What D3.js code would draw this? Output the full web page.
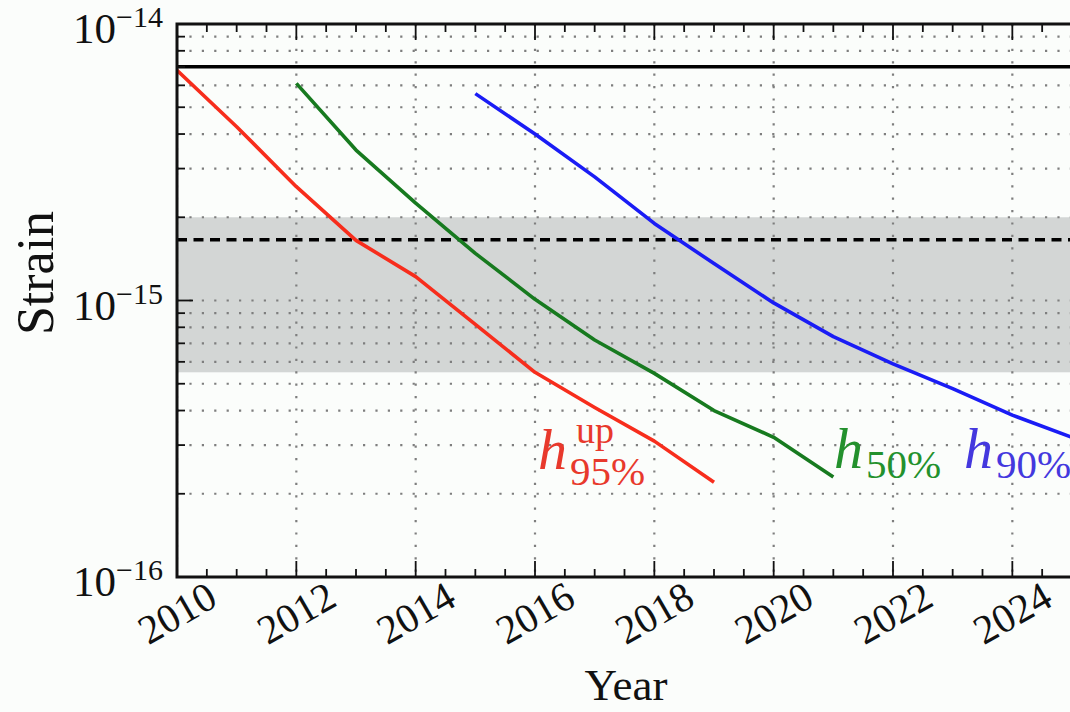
<!DOCTYPE html>
<html>
<head>
<meta charset="utf-8">
<script src="https://cdn.jsdelivr.net/npm/d3@7"></script>
<style>
    body { margin: 0; background: #fbfdfb; }
    svg { display: block; }
    text { font-family: "Liberation Serif", "DejaVu Serif", serif; fill: #111; }
</style>
</head>
<body>
<div id="grafico"></div>
<script>
// datos
var aniosRojo = [2010, 2011, 2012, 2013, 2014, 2015, 2016, 2017, 2018, 2019];
var valoresRojo = [6.8e-15, 4.25e-15, 2.58e-15, 1.65e-15, 1.22e-15, 8.2e-16, 5.5e-16, 4.1e-16, 3.1e-16, 2.2e-16];

var aniosVerde = [2012, 2013, 2014, 2015, 2016, 2017, 2018, 2019, 2020, 2021];
var valoresVerde = [6.1e-15, 3.5e-15, 2.25e-15, 1.48e-15, 1.01e-15, 7.2e-16, 5.45e-16, 4.0e-16, 3.2e-16, 2.3e-16];

var aniosAzul = [2015, 2016, 2017, 2018, 2019, 2020, 2021, 2022, 2023, 2024, 2025];
var valoresAzul = [5.6e-15, 4.0e-15, 2.8e-15, 1.9e-15, 1.36e-15, 9.8e-16, 7.4e-16, 5.9e-16, 4.8e-16, 3.85e-16, 3.2e-16];

var lineaSolida = 7e-15;
var lineaPunteada = 1.66e-15;
var banda = [5.5e-16, 2.0e-15];

var ticksX = [2010, 2012, 2014, 2016, 2018, 2020, 2022, 2024];
var ticksY = [1e-16, 1e-15, 1e-14];
var etiquetasY = ["\u221216", "\u221215", "\u221214"];

var width = 1070, height = 712;
var izq = 177, der = 1072, arriba = 24, abajo = 577;

var x = d3.scaleLinear().domain([2010, 2025]).range([izq, der]);
var y = d3.scaleLog().domain([1e-16, 1e-14]).range([abajo, arriba]);

var svg = d3.select("#grafico").append("svg")
    .attr("width", width)
    .attr("height", height);

svg.append("rect").attr("width", width).attr("height", height).attr("fill", "#fbfdfb");

svg.append("clipPath").attr("id", "recorte")
    .append("rect")
    .attr("x", izq).attr("y", arriba)
    .attr("width", der - izq).attr("height", abajo - arriba);

var area = svg.append("g").attr("clip-path", "url(#recorte)");

// banda gris
area.append("rect")
    .attr("x", izq)
    .attr("y", y(banda[1]))
    .attr("width", der - izq)
    .attr("height", y(banda[0]) - y(banda[1]))
    .attr("fill", "#d3d6d5");

// grilla punteada
var menoresY = [];
[1e-16, 1e-15].forEach(function (d) {
    for (var k = 1; k <= 9; k++) menoresY.push(d * k);
});
menoresY.push(1e-14);

area.selectAll(".grillaY")
    .data(menoresY)
    .enter().append("line")
    .attr("x1", izq).attr("x2", der)
    .attr("y1", function (d) { return y(d); })
    .attr("y2", function (d) { return y(d); })
    .attr("stroke", "#7e7e7e")
    .attr("stroke-width", 2.2)
    .attr("stroke-dasharray", "2.2,10.2");

area.selectAll(".grillaX")
    .data(ticksX)
    .enter().append("line")
    .attr("x1", function (d) { return x(d); })
    .attr("x2", function (d) { return x(d); })
    .attr("y1", arriba).attr("y2", abajo)
    .attr("stroke", "#7e7e7e")
    .attr("stroke-width", 2.2)
    .attr("stroke-dasharray", "2.2,10.2");

// lineas de referencia
area.append("line")
    .attr("x1", izq).attr("x2", der)
    .attr("y1", y(lineaSolida)).attr("y2", y(lineaSolida))
    .attr("stroke", "#000").attr("stroke-width", 3.5);

area.append("line")
    .attr("x1", izq).attr("x2", der)
    .attr("y1", y(lineaPunteada)).attr("y2", y(lineaPunteada))
    .attr("stroke", "#000").attr("stroke-width", 3.5)
    .attr("stroke-dasharray", "10,6.5");

// curvas
var linea = d3.line()
    .x(function (d) { return x(d[0]); })
    .y(function (d) { return y(d[1]); });

function dibujarCurva(anios, valores, color) {
    area.append("path")
        .datum(d3.zip(anios, valores))
        .attr("d", linea)
        .attr("fill", "none")
        .attr("stroke", color)
        .attr("stroke-width", 3.6)
        .attr("stroke-linejoin", "round");
}
dibujarCurva(aniosRojo, valoresRojo, "#f72d1c");
dibujarCurva(aniosVerde, valoresVerde, "#177a1f");
dibujarCurva(aniosAzul, valoresAzul, "#1a1cf5");

// marcas de ejes (hacia adentro)
var ejes = svg.append("g");
var menoresX = d3.range(2010, 2025.01, 0.5);

ejes.selectAll(".tickAbajo")
    .data(menoresX)
    .enter().append("line")
    .attr("x1", function (d) { return x(d); })
    .attr("x2", function (d) { return x(d); })
    .attr("y1", abajo)
    .attr("y2", function (d) { return abajo - (d % 2 === 0 ? 16 : 8); })
    .attr("stroke", "#111").attr("stroke-width", 1.8);

ejes.selectAll(".tickArriba")
    .data(menoresX)
    .enter().append("line")
    .attr("x1", function (d) { return x(d); })
    .attr("x2", function (d) { return x(d); })
    .attr("y1", arriba)
    .attr("y2", function (d) { return arriba + (d % 2 === 0 ? 16 : 8); })
    .attr("stroke", "#111").attr("stroke-width", 1.8);

ejes.selectAll(".tickIzq")
    .data(menoresY)
    .enter().append("line")
    .attr("x1", izq)
    .attr("x2", function (d) { return ticksY.indexOf(d) >= 0 ? izq + 16 : izq + 8; })
    .attr("y1", function (d) { return y(d); })
    .attr("y2", function (d) { return y(d); })
    .attr("stroke", "#111").attr("stroke-width", 1.8);

// marco
ejes.append("path")
    .attr("d", "M" + (der + 5) + "," + arriba + "H" + izq + "V" + abajo + "H" + (der + 5))
    .attr("fill", "none")
    .attr("stroke", "#111")
    .attr("stroke-width", 3);

// etiquetas eje y
var etY = svg.selectAll(".etiquetaY")
    .data(ticksY)
    .enter().append("text")
    .attr("x", 163)
    .attr("y", function (d) { return y(d) + 19; })
    .attr("text-anchor", "end")
    .style("font-size", "43px");
etY.append("tspan").text("10");
etY.append("tspan")
    .attr("dy", -16)
    .style("font-size", "30px")
    .text(function (d, i) { return etiquetasY[i]; });

// etiquetas eje x
svg.selectAll(".etiquetaX")
    .data(ticksX)
    .enter().append("text")
    .attr("transform", function (d) { return "translate(" + x(d) + ",613) rotate(-30)"; })
    .attr("text-anchor", "middle")
    .attr("dominant-baseline", "central")
    .style("font-size", "41px")
    .text(function (d) { return d; });

svg.append("text")
    .attr("x", 626).attr("y", 700)
    .attr("text-anchor", "middle")
    .style("font-size", "45px")
    .text("Year");

svg.append("text")
    .attr("transform", "translate(53,273) rotate(-90)")
    .attr("text-anchor", "middle")
    .style("font-size", "52px")
    .text("Strain");

// nombres de curvas
function etiqueta(xh, yh, color, sub, sup) {
    var g = svg.append("g").style("fill", color);
    g.append("text")
        .attr("x", xh).attr("y", yh)
        .style("font-size", "58px").style("font-style", "italic").style("fill", color)
        .text("h");
    g.append("text")
        .attr("x", xh + 32).attr("y", yh + (sup ? 16 : 10))
        .style("font-size", "41px").style("fill", color)
        .text(sub);
    if (sup) {
        g.append("text")
            .attr("x", xh + 38).attr("y", yh - 26)
            .style("font-size", "38px").style("fill", color)
            .text(sup);
    }
}
etiqueta(538, 469, "#e8392c", "95%", "up");
etiqueta(834, 468, "#23912d", "50%");
etiqueta(964, 468, "#4438de", "90%");
</script>
</body>
</html>
